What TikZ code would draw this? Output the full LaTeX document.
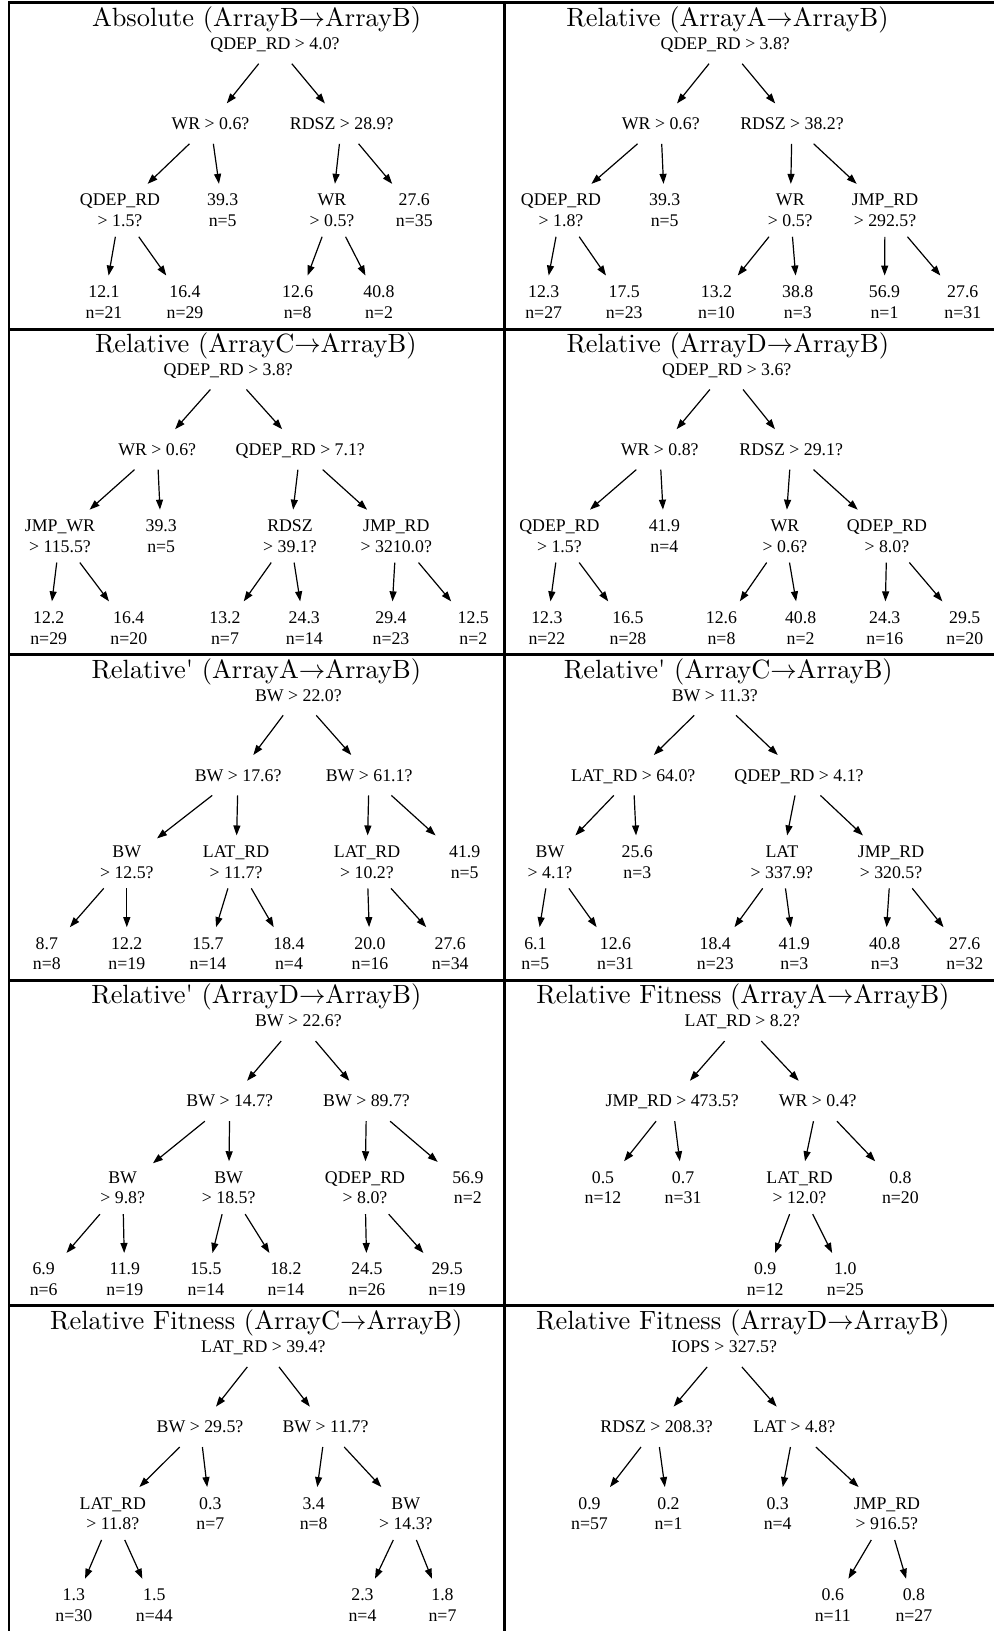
\RequirePackage{fix-cm}
\documentclass[tikz,border=0pt]{standalone}
\usepackage{fontspec}
\newfontfamily\gvfont{Liberation Serif}
\newfontfamily\ttlfont{lmroman10-regular}[Extension=.otf]
\usetikzlibrary{arrows.meta}

% one-line and two-line node texts, vertically centred on the node anchor
\newcommand\one[1]{\raisebox{-5.9pt}[0pt][0pt]{#1}}
\newcommand\two[2]{\raisebox{4.45pt}[0pt][0pt]{\begin{tabular}[t]{@{}c@{}}#1\\#2\end{tabular}}}

% vertical levels inside one panel
\def\yT{26.4}
\def\yA{43.5}
\def\yB{123.6}
\def\yC{210.3}
\def\yD{302}

\tikzset{
  treenode/.style={rectangle, inner xsep=0pt, inner ysep=0pt, minimum width=60pt,
    font=\gvfont\fontsize{17.8}{20.7}\selectfont},
  q1/.style={treenode, minimum height=40pt},
  q2/.style={treenode, minimum height=52.5pt},
  ttl/.style={anchor=base, inner sep=0pt, font=\ttlfont\fontsize{26.4}{30}\selectfont},
  edge/.style={-{Triangle[length=10pt,width=7pt]}, line width=1.2pt},
  frame/.style={line width=2.7pt}
}

% node helpers: name, x, y, text
\newcommand\A[4]{\node[q1] (#1) at (#2,#3) {\one{#4}};}
\newcommand\B[5]{\node[q2] (#1) at (#2,#3) {\two{#4}{#5}};}

\begin{document}
\begin{tikzpicture}[x=1pt, y=-1pt]
\useasboundingbox (0,0) rectangle (994,1631);

% table rules
\draw[frame] (9,1631) -- (9,2.5) -- (994,2.5);
\draw[frame] (504.2,2.5) -- (504.2,1631);
\foreach \yy in {329.3,654.8,980.3,1305.8}
  \draw[frame] (9,\yy) -- (994,\yy);

% ---------- row 1, left ----------
\begin{scope}[shift={(0,0)}]
\node[ttl] (ta) at (256.5,\yT) {Absolute (ArrayB$\rightarrow$ArrayB)};
\A{a0}{275}{\yA}{QDEP\_RD > 4.0?}
\A{a1}{210.5}{\yB}{WR > 0.6?}
\A{a2}{341.7}{\yB}{RDSZ > 28.9?}
\B{a3}{120}{\yC}{QDEP\_RD}{> 1.5?}
\B{a4}{222.7}{\yC}{39.3}{n=5}
\B{a5}{332}{\yC}{WR}{> 0.5?}
\B{a6}{414.3}{\yC}{27.6}{n=35}
\B{a7}{104}{\yD}{12.1}{n=21}
\B{a8}{185}{\yD}{16.4}{n=29}
\B{a9}{297.7}{\yD}{12.6}{n=8}
\B{a10}{379}{\yD}{40.8}{n=2}
\foreach \s/\t in {a0/a1,a0/a2,a1/a3,a1/a4,a2/a5,a2/a6,a3/a7,a3/a8,a5/a9,a5/a10}
  \draw[edge] (\s) -- (\t);
\end{scope}

% ---------- row 1, right ----------
\begin{scope}[shift={(0,0)}]
\node[ttl] (tb) at (727.5,\yT) {Relative (ArrayA$\rightarrow$ArrayB)};
\A{b0}{725.3}{\yA}{QDEP\_RD > 3.8?}
\A{b1}{660.8}{\yB}{WR > 0.6?}
\A{b2}{792}{\yB}{RDSZ > 38.2?}
\B{b3}{561}{\yC}{QDEP\_RD}{> 1.8?}
\B{b4}{664.7}{\yC}{39.3}{n=5}
\B{b5}{790.3}{\yC}{WR}{> 0.5?}
\B{b6}{885}{\yC}{JMP\_RD}{> 292.5?}
\B{b7}{543.7}{\yD}{12.3}{n=27}
\B{b8}{624.2}{\yD}{17.5}{n=23}
\B{b9}{716.5}{\yD}{13.2}{n=10}
\B{b10}{797.8}{\yD}{38.8}{n=3}
\B{b11}{884.5}{\yD}{56.9}{n=1}
\B{b12}{962.8}{\yD}{27.6}{n=31}
\foreach \s/\t in {b0/b1,b0/b2,b1/b3,b1/b4,b2/b5,b2/b6,b3/b7,b3/b8,b5/b9,b5/b10,b6/b11,b6/b12}
  \draw[edge] (\s) -- (\t);
\end{scope}

% ---------- row 2, left ----------
\begin{scope}[shift={(0,325.8)}]
\node[ttl] (tc) at (255.8,\yT) {Relative (ArrayC$\rightarrow$ArrayB)};
\A{c0}{228.3}{\yA}{QDEP\_RD > 3.8?}
\A{c1}{157.2}{\yB}{WR > 0.6?}
\A{c2}{300.3}{\yB}{QDEP\_RD > 7.1?}
\B{c3}{60}{\yC}{JMP\_WR}{> 115.5?}
\B{c4}{161.2}{\yC}{39.3}{n=5}
\B{c5}{290}{\yC}{RDSZ}{> 39.1?}
\B{c6}{396.3}{\yC}{JMP\_RD}{> 3210.0?}
\B{c7}{48.7}{\yD}{12.2}{n=29}
\B{c8}{128.8}{\yD}{16.4}{n=20}
\B{c9}{225}{\yD}{13.2}{n=7}
\B{c10}{304.3}{\yD}{24.3}{n=14}
\B{c11}{391}{\yD}{29.4}{n=23}
\B{c12}{473.3}{\yD}{12.5}{n=2}
\foreach \s/\t in {c0/c1,c0/c2,c1/c3,c1/c4,c2/c5,c2/c6,c3/c7,c3/c8,c5/c9,c5/c10,c6/c11,c6/c12}
  \draw[edge] (\s) -- (\t);
\end{scope}

% ---------- row 2, right ----------
\begin{scope}[shift={(0,325.8)}]
\node[ttl] (td) at (727.8,\yT) {Relative (ArrayD$\rightarrow$ArrayB)};
\A{d0}{726.8}{\yA}{QDEP\_RD > 3.6?}
\A{d1}{659.7}{\yB}{WR > 0.8?}
\A{d2}{791.2}{\yB}{RDSZ > 29.1?}
\B{d3}{559.4}{\yC}{QDEP\_RD}{> 1.5?}
\B{d4}{664.4}{\yC}{41.9}{n=4}
\B{d5}{785}{\yC}{WR}{> 0.6?}
\B{d6}{886.9}{\yC}{QDEP\_RD}{> 8.0?}
\B{d7}{546.9}{\yD}{12.3}{n=22}
\B{d8}{628}{\yD}{16.5}{n=28}
\B{d9}{721.5}{\yD}{12.6}{n=8}
\B{d10}{800.6}{\yD}{40.8}{n=2}
\B{d11}{884.8}{\yD}{24.3}{n=16}
\B{d12}{964.8}{\yD}{29.5}{n=20}
\foreach \s/\t in {d0/d1,d0/d2,d1/d3,d1/d4,d2/d5,d2/d6,d3/d7,d3/d8,d5/d9,d5/d10,d6/d11,d6/d12}
  \draw[edge] (\s) -- (\t);
\end{scope}

% ---------- row 3, left ----------
\begin{scope}[shift={(0,651.6)}]
\node[ttl] (te) at (256.3,\yT) {Relative' (ArrayA$\rightarrow$ArrayB)};
\A{e0}{298.4}{\yA}{BW > 22.0?}
\A{e1}{238.1}{\yB}{BW > 17.6?}
\A{e2}{369.1}{\yB}{BW > 61.1?}
\B{e3}{126.8}{\yC}{BW}{> 12.5?}
\B{e4}{236}{\yC}{LAT\_RD}{> 11.7?}
\B{e5}{367}{\yC}{LAT\_RD}{> 10.2?}
\B{e6}{464.7}{\yC}{41.9}{n=5}
\B{e7}{46.8}{\yD}{8.7}{n=8}
\B{e8}{126.8}{\yD}{12.2}{n=19}
\B{e9}{208}{\yD}{15.7}{n=14}
\B{e10}{289}{\yD}{18.4}{n=4}
\B{e11}{370}{\yD}{20.0}{n=16}
\B{e12}{450.2}{\yD}{27.6}{n=34}
\foreach \s/\t in {e0/e1,e0/e2,e1/e3,e1/e4,e2/e5,e2/e6,e3/e7,e3/e8,e4/e9,e4/e10,e5/e11,e5/e12}
  \draw[edge] (\s) -- (\t);
\end{scope}

% ---------- row 3, right ----------
\begin{scope}[shift={(0,651.6)}]
\node[ttl] (tf) at (728.3,\yT) {Relative' (ArrayC$\rightarrow$ArrayB)};
\A{f0}{714.8}{\yA}{BW > 11.3?}
\A{f1}{633.2}{\yB}{LAT\_RD > 64.0?}
\A{f2}{799}{\yB}{QDEP\_RD > 4.1?}
\B{f3}{550}{\yC}{BW}{> 4.1?}
\B{f4}{637.3}{\yC}{25.6}{n=3}
\B{f5}{781.9}{\yC}{LAT}{> 337.9?}
\B{f6}{891}{\yC}{JMP\_RD}{> 320.5?}
\B{f7}{535.4}{\yD}{6.1}{n=5}
\B{f8}{615.5}{\yD}{12.6}{n=31}
\B{f9}{715.3}{\yD}{18.4}{n=23}
\B{f10}{794.3}{\yD}{41.9}{n=3}
\B{f11}{884.8}{\yD}{40.8}{n=3}
\B{f12}{964.8}{\yD}{27.6}{n=32}
\foreach \s/\t in {f0/f1,f0/f2,f1/f3,f1/f4,f2/f5,f2/f6,f3/f7,f3/f8,f5/f9,f5/f10,f6/f11,f6/f12}
  \draw[edge] (\s) -- (\t);
\end{scope}

% ---------- row 4, left ----------
\begin{scope}[shift={(0,977.4)}]
\node[ttl] (tg) at (256.3,\yT) {Relative' (ArrayD$\rightarrow$ArrayB)};
\A{g0}{298.4}{\yA}{BW > 22.6?}
\A{g1}{229.8}{\yB}{BW > 14.7?}
\A{g2}{366.5}{\yB}{BW > 89.7?}
\B{g3}{122.7}{\yC}{BW}{> 9.8?}
\B{g4}{228.7}{\yC}{BW}{> 18.5?}
\B{g5}{365}{\yC}{QDEP\_RD}{> 8.0?}
\B{g6}{467.9}{\yC}{56.9}{n=2}
\B{g7}{43.7}{\yD}{6.9}{n=6}
\B{g8}{124.8}{\yD}{11.9}{n=19}
\B{g9}{205.9}{\yD}{15.5}{n=14}
\B{g10}{285.9}{\yD}{18.2}{n=14}
\B{g11}{367}{\yD}{24.5}{n=26}
\B{g12}{447.1}{\yD}{29.5}{n=19}
\foreach \s/\t in {g0/g1,g0/g2,g1/g3,g1/g4,g2/g5,g2/g6,g3/g7,g3/g8,g4/g9,g4/g10,g5/g11,g5/g12}
  \draw[edge] (\s) -- (\t);
\end{scope}

% ---------- row 4, right ----------
\begin{scope}[shift={(0,977.4)}]
\node[ttl] (th) at (742.9,\yT) {Relative Fitness (ArrayA$\rightarrow$ArrayB)};
\A{h0}{742.3}{\yA}{LAT\_RD > 8.2?}
\A{h1}{672.2}{\yB}{JMP\_RD > 473.5?}
\A{h2}{817.7}{\yB}{WR > 0.4?}
\B{h3}{603}{\yC}{0.5}{n=12}
\B{h4}{683.1}{\yC}{0.7}{n=31}
\B{h5}{799.5}{\yC}{LAT\_RD}{> 12.0?}
\B{h6}{900.4}{\yC}{0.8}{n=20}
\B{h7}{765.2}{\yD}{0.9}{n=12}
\B{h8}{845.3}{\yD}{1.0}{n=25}
\foreach \s/\t in {h0/h1,h0/h2,h1/h3,h1/h4,h2/h5,h2/h6,h5/h7,h5/h8}
  \draw[edge] (\s) -- (\t);
\end{scope}

% ---------- row 5, left ----------
\begin{scope}[shift={(0,1303.2)}]
\node[ttl] (ti) at (256.3,\yT) {Relative Fitness (ArrayC$\rightarrow$ArrayB)};
\A{i0}{263.3}{\yA}{LAT\_RD > 39.4?}
\A{i1}{200}{\yB}{BW > 29.5?}
\A{i2}{325.5}{\yB}{BW > 11.7?}
\B{i3}{112.8}{\yC}{LAT\_RD}{> 11.8?}
\B{i4}{210.3}{\yC}{0.3}{n=7}
\B{i5}{313.7}{\yC}{3.4}{n=8}
\B{i6}{405.8}{\yC}{BW}{> 14.3?}
\B{i7}{73.8}{\yD}{1.3}{n=30}
\B{i8}{154.3}{\yD}{1.5}{n=44}
\B{i9}{362.5}{\yD}{2.3}{n=4}
\B{i10}{442.5}{\yD}{1.8}{n=7}
\foreach \s/\t in {i0/i1,i0/i2,i1/i3,i1/i4,i2/i5,i2/i6,i3/i7,i3/i8,i6/i9,i6/i10}
  \draw[edge] (\s) -- (\t);
\end{scope}

% ---------- row 5, right ----------
\begin{scope}[shift={(0,1303.2)}]
\node[ttl] (tj) at (742.9,\yT) {Relative Fitness (ArrayD$\rightarrow$ArrayB)};
\A{j0}{724.2}{\yA}{IOPS > 327.5?}
\A{j1}{656.6}{\yB}{RDSZ > 208.3?}
\A{j2}{794.3}{\yB}{LAT > 4.8?}
\B{j3}{589.5}{\yC}{0.9}{n=57}
\B{j4}{668.5}{\yC}{0.2}{n=1}
\B{j5}{777.7}{\yC}{0.3}{n=4}
\B{j6}{886.9}{\yC}{JMP\_RD}{> 916.5?}
\B{j7}{832.8}{\yD}{0.6}{n=11}
\B{j8}{913.9}{\yD}{0.8}{n=27}
\foreach \s/\t in {j0/j1,j0/j2,j1/j3,j1/j4,j2/j5,j2/j6,j6/j7,j6/j8}
  \draw[edge] (\s) -- (\t);
\end{scope}
\end{tikzpicture}
\end{document}
